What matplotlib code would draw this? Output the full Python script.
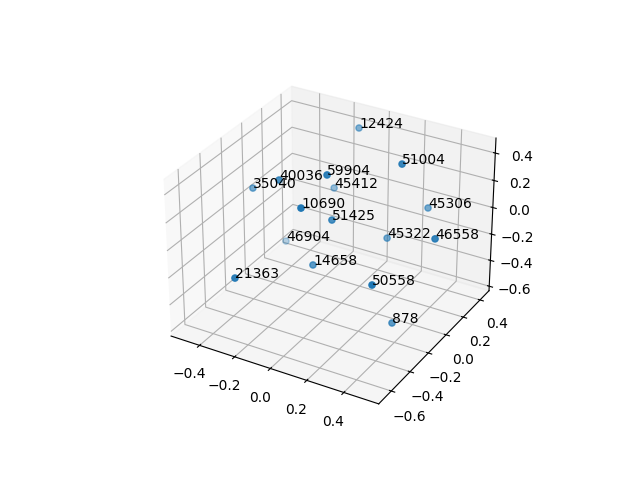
import matplotlib
matplotlib.use('Agg')
import matplotlib.pyplot as plt

labels = ['12424', '51004', '59904', '40036', '45412', '35040', '45306', '10690',
          '51425', '45322', '46558', '46904', '14658', '21363', '50558', '878']
xs = [-0.146, 0.290, 0.020, -0.250, -0.249, -0.492, 0.283, 0.003,
      0.018, 0.145, 0.525, -0.507, -0.059, -0.234, 0.379, 0.344]
ys = [0.461, 0.073, -0.189, -0.183, 0.386, -0.027, 0.394, -0.418,
      -0.136, 0.215, -0.032, 0.329, -0.191, -0.650, -0.407, -0.116]
zs = [0.361, 0.463, 0.439, 0.303, -0.084, 0.067, -0.046, 0.332,
      0.083, -0.217, 0.075, -0.560, -0.245, -0.118, -0.079, -0.568]

fig = plt.figure(figsize=(6.4, 4.8), dpi=100)
ax = fig.add_subplot(projection='3d')
ax.scatter(xs, ys, zs)
for x, y, z, label in zip(xs, ys, zs, labels):
    ax.text(x, y, z, label)
ax.set_xlim(-0.565, 0.585, view_margin=0)
ax.set_ylim(-0.73, 0.51, view_margin=0)
ax.set_zlim(-0.635, 0.508, view_margin=0)
fig.savefig('out.png', dpi=100)
